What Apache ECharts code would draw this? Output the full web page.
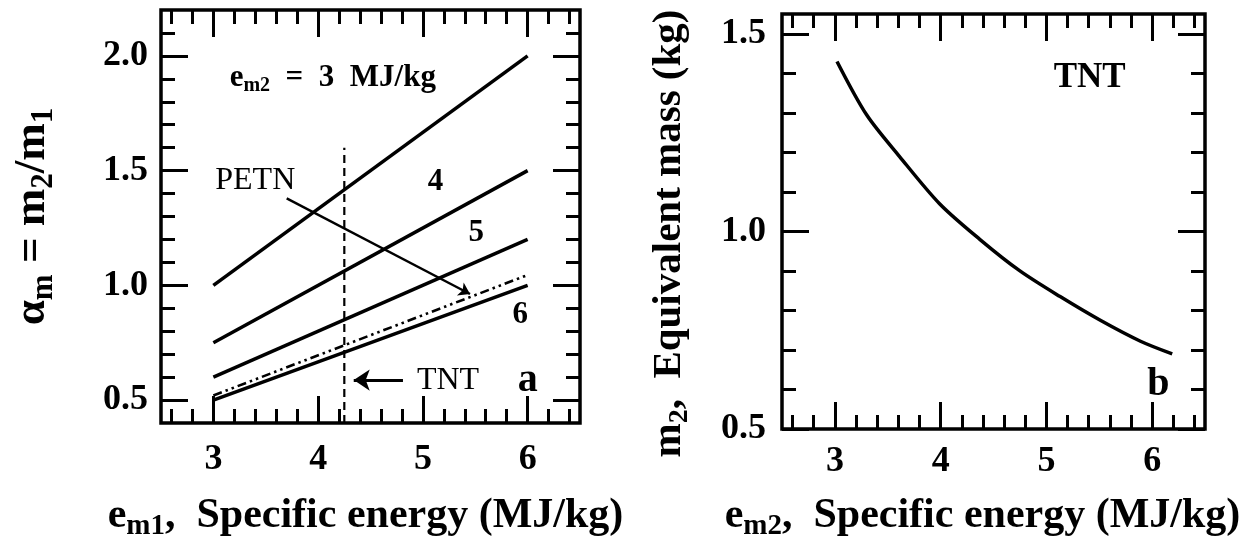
<!DOCTYPE html>
<html>
<head>
<meta charset="utf-8">
<script src="https://cdn.jsdelivr.net/npm/echarts@6/dist/echarts.min.js"></script>
<style>
html, body { margin: 0; padding: 0; background: #fff; }
#chart { width: 1247px; height: 546px; }
</style>
</head>
<body>
<div id="chart"></div>
<script>
// panel a : alpha_m = m2/m1 against e_m1, one line per e_m2
var em1 = [3, 6];
var alphaE3 = [1.0, 2.0];
var alphaE4 = [0.75, 1.5];
var alphaE5 = [0.6, 1.2];
var alphaE6 = [0.5, 1.0];
var alphaPETN = [0.52, 1.045];
var tntMarkX = [4.25, 4.25];
var tntMarkY = [0.4, 1.6];

// panel b : TNT equivalent mass against e_m2
var em2 = [3.02, 3.3, 3.61, 3.99, 4.37, 4.75, 5.13, 5.51, 5.89, 6.19];
var massTNT = [1.43, 1.295, 1.19, 1.07, 0.98, 0.9, 0.835, 0.775, 0.722, 0.69];

// ticks
var xMajor = [3, 4, 5, 6];
var xMinor = [2.6, 2.8, 3.2, 3.4, 3.6, 3.8, 4.2, 4.4, 4.6, 4.8, 5.2, 5.4, 5.6, 5.8, 6.2, 6.4];
var yMajorA = [0.5, 1.0, 1.5, 2.0];
var yMinorA = [0.6, 0.7, 0.8, 0.9, 1.1, 1.2, 1.3, 1.4, 1.6, 1.7, 1.8, 1.9, 2.1];
var yMajorB = [0.5, 1.0, 1.5];
var yMinorB = [0.6, 0.7, 0.8, 0.9, 1.1, 1.2, 1.3, 1.4];

var FONT = 'Liberation Serif';
var BLACK = '#000';

function pairs(xs, ys) {
    return xs.map(function (x, i) { return [x, ys[i]]; });
}

// one axis = one row of inward ticks
function tickAxis(gridIndex, position, min, max, ticks, len) {
    return {
        type: 'value', gridIndex: gridIndex, position: position,
        min: min, max: max,
        axisLine: { show: false },
        splitLine: { show: false },
        axisTick: { show: true, inside: true, length: len, customValues: ticks,
            lineStyle: { color: BLACK, width: 3 } },
        axisLabel: { show: false }
    };
}

function titleRich(size) {
    return {
        t: { fontFamily: FONT, fontWeight: 'bold', fontSize: size, color: BLACK, lineHeight: size + 5 },
        s: { fontFamily: FONT, fontWeight: 'bold', fontSize: Math.round(size * 0.68), color: BLACK,
             lineHeight: Math.round(size * 0.68), padding: [Math.round(size * 0.5), 0, 0, 0] }
    };
}

function withLabels(ax, ticks, margin, digits, name, gap, size, pad) {
    ax.axisLabel = {
        show: true, customValues: ticks, margin: margin,
        fontFamily: FONT, fontWeight: 'bold', fontSize: 36, color: BLACK,
        formatter: function (v) { return v.toFixed(digits); }
    };
    ax.name = name;
    ax.nameLocation = 'middle';
    ax.nameGap = gap;
    ax.nameTextStyle = { rich: titleRich(size), padding: pad };
    return ax;
}

var xAxes = [
    withLabels(tickAxis(0, 'bottom', 2.5, 6.5, xMajor, 27), xMajor, 19, 0,
        '{t|e}{s|m1}{t|,  Specific energy (MJ/kg)}', 70, 42, [0, 10, 0, 0]),
    tickAxis(0, 'bottom', 2.5, 6.5, xMinor, 14),
    tickAxis(0, 'top', 2.5, 6.5, xMajor, 27),
    tickAxis(0, 'top', 2.5, 6.5, xMinor, 14),
    withLabels(tickAxis(1, 'bottom', 2.5, 6.5, xMajor, 27), xMajor, 15, 0,
        '{t|e}{s|m2}{t|,  Specific energy (MJ/kg)}', 64, 42, [0, 22, 0, 0]),
    tickAxis(1, 'bottom', 2.5, 6.5, xMinor, 14),
    tickAxis(1, 'top', 2.5, 6.5, xMajor, 27),
    tickAxis(1, 'top', 2.5, 6.5, xMinor, 14)
];

var yLeftA = withLabels(tickAxis(0, 'left', 0.4, 2.2, yMajorA, 27), yMajorA, 13, 1,
    '{t|α}{s|m}{t| = m}{s|2}{t|/m}{s|1}', 104, 45, 0);
yLeftA.nameRotate = 90;
var yLeftB = withLabels(tickAxis(1, 'left', 0.5, 1.55, yMajorB, 27), yMajorB, 16, 1,
    '{t|m}{s|2}{t|,  Equivalent mass (kg)}', 90, 41, [0, 24, 0, 0]);
yLeftB.nameRotate = 90;

var yAxes = [
    yLeftA,
    tickAxis(0, 'left', 0.4, 2.2, yMinorA, 14),
    tickAxis(0, 'right', 0.4, 2.2, yMajorA, 27),
    tickAxis(0, 'right', 0.4, 2.2, yMinorA, 14),
    yLeftB,
    tickAxis(1, 'left', 0.5, 1.55, yMinorB, 14),
    tickAxis(1, 'right', 0.5, 1.55, yMajorB, 27),
    tickAxis(1, 'right', 0.5, 1.55, yMinorB, 14)
];

// text written inside the frames
var noteRich = {
    b: { fontFamily: FONT, fontWeight: 'bold', fontSize: 31, color: BLACK, lineHeight: 34 },
    s: { fontFamily: FONT, fontWeight: 'bold', fontSize: 20, color: BLACK, lineHeight: 20, padding: [17, 0, 0, 0] },
    r: { fontFamily: FONT, fontSize: 32, color: BLACK },
    n: { fontFamily: FONT, fontWeight: 'bold', fontSize: 31, color: BLACK },
    big: { fontFamily: FONT, fontWeight: 'bold', fontSize: 40, color: BLACK },
    tnt: { fontFamily: FONT, fontWeight: 'bold', fontSize: 35, color: BLACK }
};
var notesA = [
    [4.14, 1.905, '{b|e}{s|m2}{b|  =  3  MJ/kg}'],
    [3.4, 1.455, '{r|PETN}'],
    [5.12, 1.45, '{n|4}'],
    [5.51, 1.227, '{n|5}'],
    [5.93, 0.871, '{n|6}'],
    [5.24, 0.587, '{r|TNT}'],
    [6.0, 0.585, '{big|a}']
];
var notesB = [
    [5.41, 1.389, '{tnt|TNT}'],
    [6.06, 0.613, '{big|b}']
];

function solid(data, xi, yi) {
    return {
        type: 'line', xAxisIndex: xi, yAxisIndex: yi, data: data,
        showSymbol: false, symbol: 'none', silent: true,
        lineStyle: { color: BLACK, width: 3.5 }
    };
}

function notes(list, xi, yi) {
    return {
        type: 'scatter', xAxisIndex: xi, yAxisIndex: yi, data: list,
        symbolSize: 0, silent: true,
        itemStyle: { color: BLACK, opacity: 1 },
        label: { show: true, position: 'inside', color: BLACK, rich: noteRich,
            formatter: function (p) { return p.value[2]; } }
    };
}

var petnLine = solid(pairs(em1, alphaPETN), 0, 0);
petnLine.lineStyle = { color: BLACK, width: 2.6, type: [9, 4, 2.5, 4, 2.5, 4] };

var tntLine = solid(pairs(tntMarkX, tntMarkY), 0, 0);
tntLine.lineStyle = { color: BLACK, width: 2.2, type: [8, 5] };
tntLine.markLine = {
    silent: true, symbol: ['none', 'arrow'], symbolSize: 16,
    label: { show: false },
    lineStyle: { color: BLACK, width: 3.2, type: 'solid' },
    data: [
        [{ coord: [4.81, 0.587] }, { coord: [4.34, 0.587] }]
    ]
};
petnLine.markLine = {
    silent: true, symbol: ['none', 'arrow'], symbolSize: 11,
    label: { show: false },
    lineStyle: { color: BLACK, width: 2.4, type: 'solid' },
    data: [
        [{ coord: [3.7, 1.379] }, { coord: [5.45, 0.962] }]
    ]
};

var massLine = solid(pairs(em2, massTNT), 4, 4);
massLine.smooth = 0.3;

var myChart = echarts.init(document.getElementById('chart'));

var option = {
    animation: false,
    backgroundColor: '#fff',
    grid: [
        { left: 161, top: 10, width: 419, height: 413, show: true, outerBoundsMode: 'none',
          borderColor: BLACK, borderWidth: 3.5, backgroundColor: 'transparent' },
        { left: 782, top: 14, width: 423, height: 415, show: true, outerBoundsMode: 'none',
          borderColor: BLACK, borderWidth: 3.5, backgroundColor: 'transparent' }
    ],
    xAxis: xAxes,
    yAxis: yAxes,
    series: [
        solid(pairs(em1, alphaE3), 0, 0),
        solid(pairs(em1, alphaE4), 0, 0),
        solid(pairs(em1, alphaE5), 0, 0),
        solid(pairs(em1, alphaE6), 0, 0),
        petnLine,
        tntLine,
        notes(notesA, 0, 0),
        massLine,
        notes(notesB, 4, 4)
    ]
};

myChart.setOption(option);
</script>
</body>
</html>
